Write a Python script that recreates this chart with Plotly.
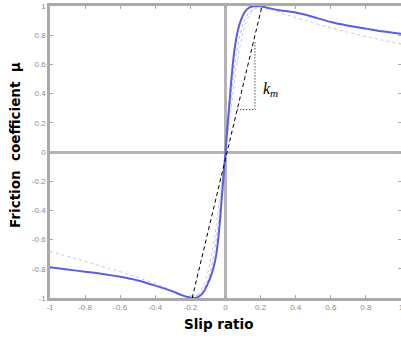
import plotly.graph_objects as go

# ---- data ----
slip_main = [-1, -0.9, -0.8, -0.7, -0.6, -0.5, -0.4, -0.3, -0.25, -0.2, -0.17, -0.14, -0.12, -0.1,
             -0.08, -0.06, -0.05, -0.04, -0.03, -0.02, -0.01, 0,
             0.01, 0.02, 0.03, 0.04, 0.05, 0.07, 0.09, 0.11, 0.13, 0.15, 0.18, 0.2, 0.25, 0.3,
             0.4, 0.5, 0.6, 0.7, 0.8, 0.9, 1.0]
mu_main = [-0.79, -0.805, -0.82, -0.835, -0.855, -0.88, -0.915, -0.955, -0.98, -0.997, -1.0, -0.98, -0.95, -0.9,
           -0.84, -0.75, -0.68, -0.58, -0.45, -0.3, -0.15, 0,
           0.16, 0.3, 0.45, 0.58, 0.69, 0.83, 0.91, 0.96, 0.985, 0.997, 1.0, 0.998, 0.985, 0.972,
           0.955, 0.925, 0.89, 0.865, 0.845, 0.825, 0.81]

slip_faint_a = [-1, -0.8, -0.6, -0.4, -0.3, -0.2, -0.15, -0.12, -0.1, -0.08, -0.06, -0.04, -0.02, 0,
                0.02, 0.04, 0.06, 0.08, 0.1, 0.12, 0.15, 0.2, 0.3, 0.4, 0.6, 0.8, 1.0]
mu_faint_a = [-0.68, -0.75, -0.82, -0.9, -0.95, -1.0, -0.97, -0.9, -0.82, -0.71, -0.57, -0.4, -0.2, 0,
              0.2, 0.4, 0.57, 0.71, 0.82, 0.9, 0.97, 1.0, 0.96, 0.92, 0.85, 0.79, 0.74]

slip_faint_b = [-0.2, -0.17, -0.13, -0.1, -0.08, -0.06, -0.04, -0.02, 0,
                0.02, 0.04, 0.06, 0.08, 0.1, 0.13, 0.17, 0.2]
mu_faint_b = [-1.0, -0.99, -0.95, -0.88, -0.79, -0.66, -0.48, -0.25, 0,
              0.25, 0.48, 0.66, 0.79, 0.88, 0.95, 0.99, 1.0]

slip_tangent = [-0.19, 0.208]
mu_tangent = [-1.0, 1.0]

slip_triangle = [0.067, 0.168, 0.168]
mu_triangle = [0.29, 0.29, 0.76]

tick_vals = [-1, -0.8, -0.6, -0.4, -0.2, 0, 0.2, 0.4, 0.6, 0.8, 1]
tick_text = ["-1", "-0.8", "-0.6", "-0.4", "-0.2", "0", "0.2", "0.4", "0.6", "0.8", "1"]

fig = go.Figure()
fig.add_trace(go.Scatter(x=slip_faint_a, y=mu_faint_a, mode="lines",
                         line=dict(color="#c4c4f2", width=1, dash="dot"), hoverinfo="skip"))
fig.add_trace(go.Scatter(x=slip_faint_b, y=mu_faint_b, mode="lines",
                         line=dict(color="#b4b4ee", width=1, dash="dot"), hoverinfo="skip"))
fig.add_trace(go.Scatter(x=slip_main, y=mu_main, mode="lines",
                         line=dict(color="#5c5ce4", width=2, shape="spline", smoothing=0.6)))
fig.add_trace(go.Scatter(x=slip_tangent, y=mu_tangent, mode="lines",
                         line=dict(color="black", width=1, dash="4px,3px")))
fig.add_trace(go.Scatter(x=slip_triangle, y=mu_triangle, mode="lines",
                         line=dict(color="black", width=1, dash="1px,2px")))

axis_common = dict(
    range=[-1, 1], tickvals=tick_vals, ticktext=tick_text,
    ticks="inside", ticklen=3, tickwidth=1, tickcolor="#aaaaaa",
    showline=True, linecolor="#aaaaaa", linewidth=2.5, mirror="ticks",
    showgrid=False, zeroline=True, zerolinecolor="#b4b4b4", zerolinewidth=2.5,
    tickfont=dict(family="Arial, Liberation Sans", size=8, color="#8c8c8c"),
    ticklabeloverflow="allow", automargin=False,
)

fig.update_layout(
    width=401, height=338,
    margin=dict(l=50, r=0, t=6, b=40),
    paper_bgcolor="white", plot_bgcolor="white",
    showlegend=False,
    xaxis=dict(**axis_common),
    yaxis=dict(**axis_common),
    annotations=[
        dict(text="Slip ratio", xref="paper", yref="paper", x=0.479, y=-0.089,
             xanchor="center", yanchor="middle", showarrow=False,
             font=dict(family="DejaVu Sans", size=13.5, color="black", weight="bold")),
        dict(text="Friction\u00a0\u00a0coefficient\u00a0\u00a0μ", xref="paper", yref="paper",
             x=-0.0997, y=0.524, xanchor="center", yanchor="middle", showarrow=False,
             textangle=-90,
             font=dict(family="DejaVu Sans", size=13.5, color="black", weight="bold")),
        dict(text="<i>k<sub>m</sub></i>", xref="x", yref="y", x=0.205, y=0.43,
             xanchor="left", yanchor="middle", showarrow=False,
             font=dict(family="Liberation Serif", size=16, color="black")),
    ],
)

fig.write_html("out.html", config={"displayModeBar": False},
               post_script="document.body.style.margin='0';document.body.style.overflow='hidden';")
